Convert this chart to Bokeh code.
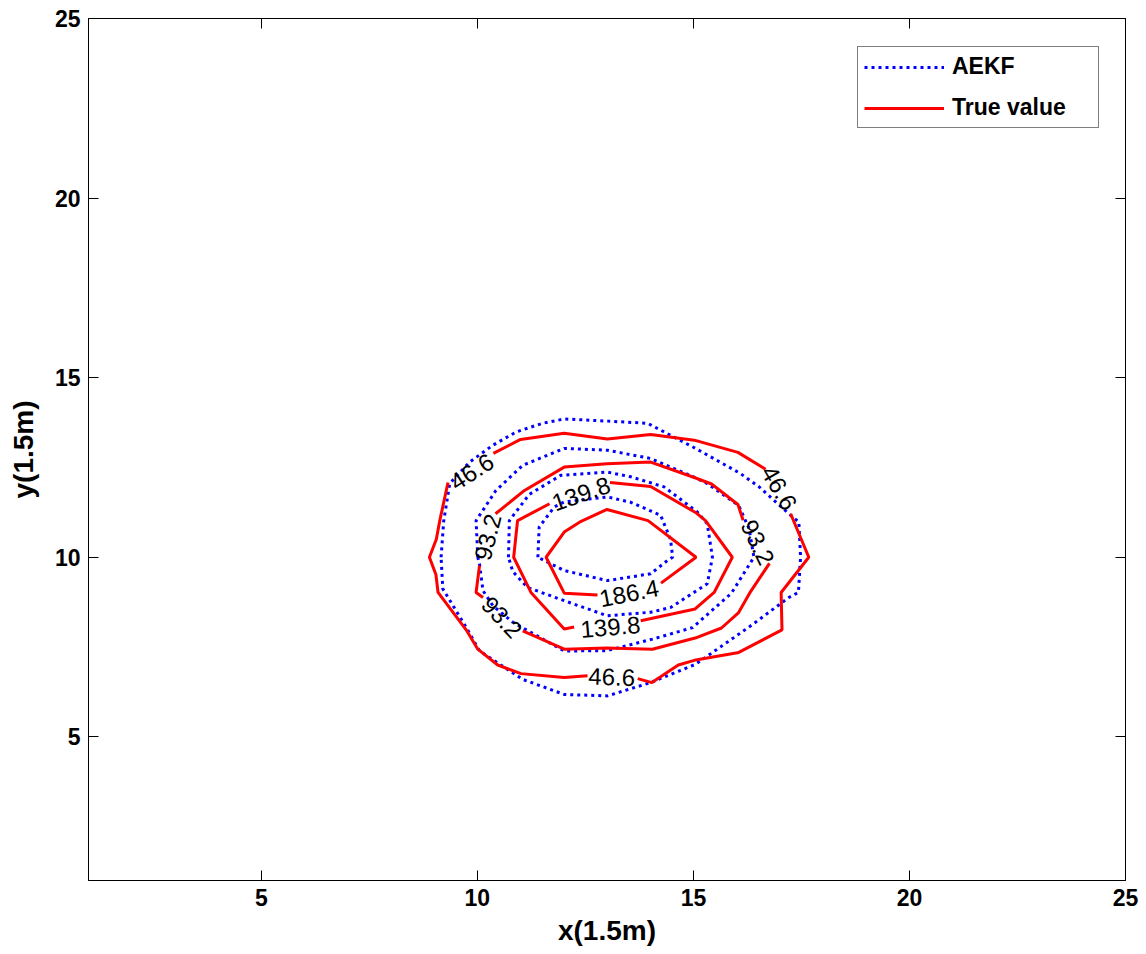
from bokeh.plotting import figure
from bokeh.models import Range1d, LinearAxis, FixedTicker, Legend
from bokeh.core.properties import value
from bokeh.embed import file_html
from bokeh.resources import INLINE

# AEKF estimate, closed contour loops (levels 46.6 / 93.2 / 139.8 / 186.4)
aekf_466_x = [9.16, 9.22, 9.36, 9.82, 10.36, 10.90, 11.51, 12.01, 13.01, 13.94, 15.02, 16.09, 16.52, 17.21, 17.44, 17.48, 17.43, 17.21, 16.28, 15.05, 14.01, 13.01, 12.01, 11.05, 10.05, 9.74, 9.20]
aekf_466_y = [10.0, 11.0, 12.05, 12.65, 13.12, 13.49, 13.73, 13.85, 13.79, 13.73, 13.05, 12.33, 11.96, 11.21, 10.98, 10.0, 9.02, 8.88, 8.05, 7.02, 6.51, 6.14, 6.18, 6.60, 7.39, 8.05, 9.12]
aekf_932_x = [10.01, 9.97, 10.43, 11.05, 12.01, 13.01, 14.01, 15.0, 15.32, 16.05, 16.29, 16.40, 15.88, 14.98, 14.05, 13.0, 12.01, 10.82, 10.36, 10.13, 10.05]
aekf_932_y = [10.0, 11.02, 11.86, 12.56, 13.03, 12.98, 12.75, 12.24, 12.05, 11.44, 10.79, 10.0, 9.0, 8.04, 7.72, 7.40, 7.39, 8.19, 8.65, 9.07, 9.81]
aekf_1398_x = [10.72, 10.74, 11.2, 11.93, 13.01, 13.55, 14.32, 15.09, 15.32, 15.44, 15.32, 14.47, 14.01, 13.01, 12.01, 11.16, 10.82]
aekf_1398_y = [10.0, 11.02, 11.75, 12.28, 12.37, 12.24, 11.96, 11.26, 10.93, 10.0, 9.26, 8.6, 8.47, 8.37, 8.79, 9.16, 9.6]
aekf_1864_x = [11.40, 11.43, 11.78, 12.01, 13.01, 13.55, 14.24, 14.47, 14.52, 14.40, 14.01, 13.01, 12.01]
aekf_1864_y = [10.0, 10.84, 11.40, 11.54, 11.68, 11.53, 11.17, 10.5, 10.0, 9.91, 9.54, 9.35, 9.63]

# true value contours, split where the labels sit
true_466_x = [[10.37, 11.0, 12.01, 13.01, 14.01, 15.02, 16.03, 16.67],
              [17.25, 17.67, 17.03, 17.05, 16.05, 15.02, 14.65, 14.04, 13.71],
              [12.55, 12.01, 11.01, 10.47, 10.01, 9.74, 9.09, 9.04, 8.89, 9.05, 9.13, 9.32]]
true_466_y = [[12.89, 13.28, 13.45, 13.29, 13.42, 13.26, 12.92, 12.45],
              [11.21, 10.0, 9.02, 7.98, 7.35, 7.13, 7.0, 6.51, 6.62],
              [6.70, 6.65, 6.76, 7.0, 7.44, 7.98, 9.02, 9.52, 10.0, 10.5, 11.02, 12.08]]
true_932_x = [[10.42, 11.09, 12.01, 13.0, 14.01, 15.02, 15.42, 16.03, 16.15],
              [16.76, 16.30, 16.04, 15.65, 15.04, 14.05, 13.0, 12.01, 11.05],
              [10.13, 9.97, 10.05]]
true_932_y = [[11.21, 11.86, 12.51, 12.6, 12.65, 12.22, 12.04, 11.47, 11.03],
              [9.83, 9.00, 8.45, 8.03, 7.75, 7.44, 7.47, 7.44, 7.95],
              [8.88, 9.02, 9.77]]
true_1398_x = [[13.07, 14.01, 15.07, 15.28, 15.90, 15.48, 15.04, 13.78],
               [12.24, 12.01, 11.24, 10.84, 10.93, 11.67]]
true_1398_y = [[12.08, 11.97, 11.23, 11.02, 10.0, 9.02, 8.56, 8.23],
               [8.06, 8.0, 9.02, 10.0, 11.02, 11.49]]
true_1864_x = [[14.25, 15.06, 13.95, 13.0, 12.4, 12.01, 11.59, 12.01, 12.78]]
true_1864_y = [[9.28, 10.0, 11.02, 11.33, 11.0, 10.70, 10.0, 9.0, 8.95]]

# contour labels
label_text = ["46.6", "46.6", "46.6", "93.2", "93.2", "93.2", "139.8", "139.8", "186.4"]
label_x = [9.87, 16.99, 13.11, 10.24, 16.49, 10.57, 12.40, 13.08, 13.51]
label_y = [12.38, 11.93, 6.67, 10.56, 10.42, 8.33, 11.77, 8.06, 9.0]
label_angle = [33, -60, -2, 76, -64, -47, 19, 5, 11]

ticks = [5, 10, 15, 20, 25]

FONT = "Liberation Sans"

p = figure(width=1146, height=954, x_range=Range1d(1, 25), y_range=Range1d(1, 25),
           output_backend="svg", toolbar_location=None,
           min_border_left=88, min_border_right=21, min_border_top=18, min_border_bottom=74)
p.xgrid.visible = False
p.ygrid.visible = False
p.outline_line_color = "black"
p.outline_line_width = 1

aekf_xs = [aekf_466_x + aekf_466_x[:1], aekf_932_x + aekf_932_x[:1],
           aekf_1398_x + aekf_1398_x[:1], aekf_1864_x + aekf_1864_x[:1]]
aekf_ys = [aekf_466_y + aekf_466_y[:1], aekf_932_y + aekf_932_y[:1],
           aekf_1398_y + aekf_1398_y[:1], aekf_1864_y + aekf_1864_y[:1]]
r_aekf = p.multi_line(aekf_xs, aekf_ys, line_color="#0000ff", line_width=3, line_dash="3 4")

true_xs = true_466_x + true_932_x + true_1398_x + true_1864_x
true_ys = true_466_y + true_932_y + true_1398_y + true_1864_y
r_true = p.multi_line(true_xs, true_ys, line_color="#ff0000", line_width=3)

p.text(x=label_x, y=label_y, text=label_text, angle=label_angle, angle_units="deg",
       text_font=value(FONT), text_font_size="24px", text_color="black",
       text_align="center", text_baseline="middle")

for ax in (p.xaxis[0], p.yaxis[0]):
    ax.ticker = FixedTicker(ticks=ticks)
    ax.minor_tick_line_color = None
    ax.major_tick_in = 10
    ax.major_tick_out = 0
    ax.major_tick_line_color = "black"
    ax.axis_line_color = "black"
    ax.major_label_text_font = FONT
    ax.major_label_text_font_style = "bold"
    ax.major_label_text_font_size = "23px"
    ax.major_label_text_color = "black"
    ax.major_label_standoff = 8
    ax.axis_label_text_font = FONT
    ax.axis_label_text_font_style = "bold"
    ax.axis_label_text_font_size = "28px"
    ax.axis_label_text_color = "black"

p.xaxis.axis_label = "x(1.5m)"
p.yaxis.axis_label = "y(1.5m)"
p.xaxis.axis_label_standoff = 6
p.yaxis.axis_label_standoff = 13

# box ticks on top and right, no labels
for side in ("above", "right"):
    ax = LinearAxis(ticker=FixedTicker(ticks=ticks))
    ax.minor_tick_line_color = None
    ax.major_tick_in = 10
    ax.major_tick_out = 0
    ax.major_tick_line_color = "black"
    ax.axis_line_color = "black"
    ax.major_label_overrides = {t: "" for t in ticks}
    ax.major_label_standoff = 0
    p.add_layout(ax, side)

legend = Legend(items=[("AEKF", [r_aekf]), ("True value", [r_true])], location=(769, 752))
legend.border_line_color = "black"
legend.border_line_width = 1
legend.background_fill_color = "white"
legend.background_fill_alpha = 1
legend.label_text_font = FONT
legend.label_text_font_style = "bold"
legend.label_text_font_size = "23px"
legend.label_text_color = "black"
legend.glyph_width = 80
legend.glyph_height = 26
legend.label_height = 26
legend.label_width = 140
legend.label_standoff = 8
legend.spacing = 14
legend.padding = 6
legend.margin = 0
p.add_layout(legend)

open("out.html", "w").write(file_html(p, INLINE))
